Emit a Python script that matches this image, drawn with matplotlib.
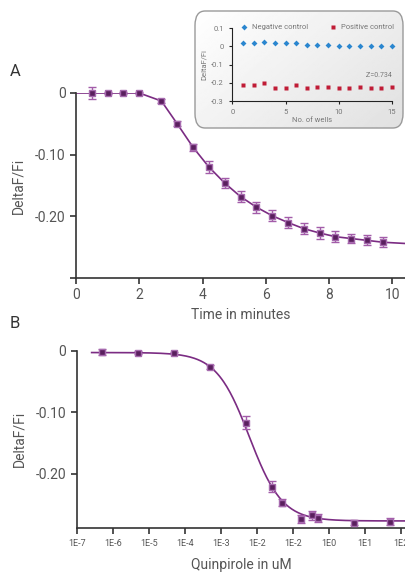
import numpy as np
import matplotlib
matplotlib.use('Agg')
from matplotlib import pyplot as plt
from matplotlib.patches import FancyBboxPatch

plt.rcParams['font.family'] = ['Roboto', 'DejaVu Sans']

# --- panel A: time course ---
time_min = [0.5, 1.0, 1.5, 2.0, 2.7, 3.2, 3.7, 4.2, 4.7, 5.2, 5.7, 6.2, 6.7, 7.2, 7.7, 8.2, 8.7, 9.2, 9.7]
delta_a = [0, 0, 0, 0, -0.013, -0.050, -0.088, -0.120, -0.146, -0.168, -0.185, -0.199,
           -0.210, -0.220, -0.227, -0.233, -0.236, -0.239, -0.242]
err_a = [0.009, 0.002, 0.002, 0.002, 0.004, 0.004, 0.006, 0.009, 0.008, 0.009, 0.009, 0.009,
         0.009, 0.009, 0.009, 0.009, 0.008, 0.008, 0.008]
line_a_x = [0.0] + time_min + [10.4]
line_a_y = [0.0] + delta_a + [-0.244]

# --- panel B: dose response ---
conc = [5e-7, 5e-6, 5e-5, 5e-4, 5e-3, 2.6e-2, 5e-2, 1.7e-1, 3.3e-1, 5e-1, 5.0, 50.0]
delta_b = [-0.002, -0.003, -0.004, -0.026, -0.117, -0.221, -0.247, -0.274, -0.268, -0.272, -0.280, -0.278]
err_b = [0.005, 0.002, 0.002, 0.003, 0.010, 0.009, 0.006, 0.006, 0.007, 0.007, 0.004, 0.005]
fit_top, fit_bottom, fit_ec50, fit_hill = -0.003, -0.277, 6.2e-3, 0.95
b_ticks = [1e-7, 1e-6, 1e-5, 1e-4, 1e-3, 1e-2, 1e-1, 1e0, 1e1, 1e2]
b_ticklabels = ['1E-7', '1E-6', '1E-5', '1E-4', '1E-3', '1E-2', '1E-2', '1E0', '1E1', '1E2']

# --- inset: Z' plate ---
wells = list(range(1, 16))
neg_ctrl = [0.02, 0.02, 0.027, 0.017, 0.017, 0.017, 0.01, 0.01, 0.01, 0.0, 0.002, 0.002, 0.0, 0.0, 0.0]
pos_ctrl = [-0.213, -0.213, -0.202, -0.229, -0.229, -0.213, -0.229, -0.221, -0.221, -0.229,
            -0.229, -0.221, -0.229, -0.229, -0.221]

W, H = 405, 574
line_c = '#7b2c83'
face_c = '#5a1f5e'
edge_c = '#a66aae'
err_c = '#a35ca9'
txt_c = '#555555'
spine_c = '#333333'

fig = plt.figure(figsize=(W / 100, H / 100), dpi=100)


def style(ax):
    for s in ['top', 'right']:
        ax.spines[s].set_visible(False)
    for s in ['left', 'bottom']:
        ax.spines[s].set_color(spine_c)
        ax.spines[s].set_linewidth(1.2)
    ax.tick_params(colors=spine_c, labelcolor=txt_c, length=4, width=1.2)


# panel A
axA = fig.add_axes([76 / W, 1 - 278 / H, 329 / W, 185 / H])
style(axA)
axA.plot(line_a_x, line_a_y, color=line_c, lw=1.2, zorder=2)
axA.errorbar(time_min, delta_a, yerr=err_a, fmt='none', ecolor=err_c, elinewidth=1.0,
             capsize=2.8, capthick=1.0, zorder=3, clip_on=False)
axA.plot(time_min, delta_a, 's', ms=5, mfc=face_c, mec=edge_c, mew=1.0, zorder=4, clip_on=False)
axA.set_xlim(0, 10.4)
axA.set_ylim(-0.3, 0)
axA.set_xticks([0, 2, 4, 6, 8, 10])
axA.set_yticks([0, -0.1, -0.2, -0.3])
axA.set_yticklabels(['0', '-0.10', '-0.20', ''])
axA.tick_params(labelsize=10)
axA.set_xlabel('Time in minutes', fontsize=10, color=txt_c, labelpad=4)
axA.set_ylabel('DeltaF/Fi', fontsize=10, color=txt_c, labelpad=7)

# panel B
axB = fig.add_axes([76.7 / W, 1 - 527.7 / H, 328.3 / W, 177 / H])
style(axB)
xs = np.logspace(np.log10(2.6e-7), np.log10(1.3e2), 300)
ys = fit_bottom + (fit_top - fit_bottom) / (1 + (xs / fit_ec50) ** fit_hill)
axB.plot(xs, ys, color=line_c, lw=1.2, zorder=2)
axB.errorbar(conc, delta_b, yerr=err_b, fmt='none', ecolor=err_c, elinewidth=1.0,
             capsize=2.8, capthick=1.0, zorder=3, clip_on=False)
axB.plot(conc, delta_b, 's', ms=5, mfc=face_c, mec=edge_c, mew=1.0, zorder=4, clip_on=False)
axB.set_xscale('log')
axB.set_xlim(1e-7, 1.3e2)
axB.set_ylim(-0.288, 0)
axB.set_xticks(b_ticks)
axB.set_xticklabels(b_ticklabels)
axB.xaxis.set_minor_locator(matplotlib.ticker.NullLocator())
axB.set_yticks([0, -0.1, -0.2])
axB.set_yticklabels(['0', '-0.10', '-0.20'])
axB.tick_params(axis='y', labelsize=10)
axB.tick_params(axis='x', labelsize=6.5, pad=4)
axB.set_xlabel('Quinpirole in uM', fontsize=10, color=txt_c, labelpad=7)
axB.set_ylabel('DeltaF/Fi', fontsize=10, color=txt_c, labelpad=7)

fig.text(10 / W, 1 - 72 / H, 'A', fontsize=12, color='#333333', va='center')
fig.text(10 / W, 1 - 323 / H, 'B', fontsize=12, color='#333333', va='center')

# inset box with soft gradient
bx0, by0, bx1, by1 = 195, 11, 403, 128
box = FancyBboxPatch((bx0 / W, 1 - by1 / H), (bx1 - bx0) / W, (by1 - by0) / H,
                     boxstyle='round,pad=0,rounding_size=0.025', transform=fig.transFigure,
                     facecolor='none', edgecolor='#9a9a9a', lw=1.0, zorder=5)
axBg = fig.add_axes([bx0 / W, 1 - by1 / H, (bx1 - bx0) / W, (by1 - by0) / H], zorder=4)
axBg.axis('off')
gx = np.linspace(0, 1, 200)
gy = np.linspace(0, 1, 100)
GX, GY = np.meshgrid(gx, gy)
grad = 1 - 0.12 * (0.6 * GX + 0.4 * GY)
img = axBg.imshow(grad, cmap='gray', vmin=0, vmax=1, extent=[0, 1, 0, 1], aspect='auto', origin='upper')
bg_clip = FancyBboxPatch((bx0 / W, 1 - by1 / H), (bx1 - bx0) / W, (by1 - by0) / H,
                         boxstyle='round,pad=0,rounding_size=0.025', transform=fig.transFigure,
                         facecolor='none', edgecolor='none')
img.set_clip_path(bg_clip)
fig.patches.append(box)

axI = fig.add_axes([232.3 / W, 1 - 101 / H, 159.7 / W, 72.7 / H], zorder=6)
axI.patch.set_alpha(0)
for s in ['top', 'right']:
    axI.spines[s].set_visible(False)
for s in ['left', 'bottom']:
    axI.spines[s].set_color('#222222')
    axI.spines[s].set_linewidth(0.8)
axI.tick_params(colors='#222222', labelcolor='#777777', length=2.5, width=0.8, labelsize=5.5)
axI.plot(wells, neg_ctrl, 'D', ms=3, color='#2a86cf', mec='none', label='Negative control', clip_on=False)
axI.plot(wells, pos_ctrl, 's', ms=3.2, color='#c01c36', mec='none', label='Positive control', clip_on=False)
axI.set_xlim(0, 15)
axI.set_ylim(-0.3, 0.1)
axI.set_xticks([0, 5, 10, 15])
axI.set_yticks([0.1, 0, -0.1, -0.2, -0.3])
axI.set_yticklabels(['0.1', '0', '-0.1', '-0.2', '-0.3'])
axI.set_xlabel('No. of wells', fontsize=5.5, color='#777777', labelpad=1.5)
axI.set_ylabel('DeltaF/Fi', fontsize=5.5, color='#777777', labelpad=3)
axI.text(15, -0.16, "Z'=0.734", fontsize=5, color='#777777', ha='right', va='center')
axI.legend(loc='lower left', bbox_to_anchor=(0.03, 0.93), ncol=2, frameon=False,
           fontsize=5.5, labelcolor='#777777', handletextpad=0.5, columnspacing=2.8,
           borderaxespad=0, handlelength=1)

fig.savefig('out.png', dpi=100)
